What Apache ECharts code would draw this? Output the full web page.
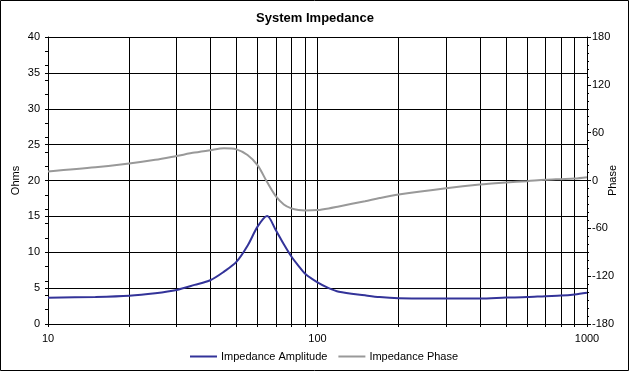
<!DOCTYPE html>
<html>
<head>
<meta charset="utf-8">
<script src="https://cdn.jsdelivr.net/npm/echarts@6/dist/echarts.min.js"></script>
<style>
html,body{margin:0;padding:0;background:#fff;}
#chart{width:630px;height:372px;}
</style>
</head>
<body>
<div id="chart"></div>
<script>
const title = 'System Impedance';
const seriesNames = ['Impedance Amplitude', 'Impedance Phase'];
const freq = [10, 15, 20, 25, 30, 35, 40, 45, 50, 55, 60, 65, 70, 75, 80, 85, 90, 100, 110, 120, 150, 170, 200, 300, 400, 500, 600, 700, 800, 900, 1000];
const amplitude = [3.67, 3.78, 3.95, 4.3, 4.75, 5.45, 6.1, 7.3, 8.65, 10.9, 13.6, 15.05, 13.1, 11.1, 9.4, 8.1, 7.0, 5.8, 5.0, 4.5, 4.0, 3.75, 3.6, 3.56, 3.56, 3.68, 3.75, 3.88, 3.96, 4.12, 4.36];
const phase = [11.3, 16.5, 21.3, 26, 30.8, 35, 38, 40.3, 39, 32, 19, -2, -19.7, -30, -35, -37, -37.5, -37, -35, -32.5, -26, -22, -17.6, -9.6, -5, -2.5, -0.8, 0.8, 1.7, 2.5, 4.2];
const gridFreqs = [10, 20, 30, 40, 50, 60, 70, 80, 90, 100, 200, 300, 400, 500, 600, 700, 800, 900, 1000];
const xLabels = [10, 100, 1000];

const font = 'Liberation Sans, Arial, sans-serif';
const chart = echarts.init(document.getElementById('chart'), null, {renderer: 'canvas'});
chart.setOption({
  backgroundColor: '#fff',
  animation: false,
  title: {
    text: title, left: 'center', top: 7,
    textStyle: {fontFamily: font, fontSize: 13, fontWeight: 'bold', color: '#000'}
  },
  legend: {
    left: 190, top: 351, padding: 0, itemWidth: 27, itemHeight: 2, itemGap: 11, icon: 'rect',
    textStyle: {fontFamily: font, fontSize: 11, color: '#000', padding: [0, 0, 0, -1]},
    data: seriesNames
  },
  graphic: [{
    type: 'rect', shape: {x: 0.5, y: 0.5, width: 628, height: 370},
    style: {fill: 'none', stroke: '#000', lineWidth: 1}, silent: true, z: 100
  }],
  grid: {left: 48, right: 43, top: 37, bottom: 48, containLabel: false, outerBoundsMode: 'none'},
  xAxis: {
    type: 'log', logBase: 10, min: 10, max: 1000,
    axisLine: {show: true, lineStyle: {color: '#000', width: 1}},
    axisTick: {show: true, length: 3, customValues: gridFreqs, lineStyle: {color: '#000'}},
    axisLabel: {customValues: xLabels, formatter: v => String(Math.round(v)), fontFamily: font, fontSize: 11, color: '#000', margin: 9},
    splitLine: {show: true, lineStyle: {color: '#000', width: 1}},
    minorTick: {show: false}
  },
  yAxis: [{
    type: 'value', position: 'left', min: 0, max: 40, interval: 5,
    name: 'Ohms', nameLocation: 'middle', nameRotate: 90, nameGap: 27, nameMoveOverlap: false,
    nameTextStyle: {fontFamily: font, fontSize: 11, color: '#000'},
    axisLine: {show: true, lineStyle: {color: '#000'}},
    axisTick: {show: true, length: 3, lineStyle: {color: '#000'}},
    axisLabel: {fontFamily: font, fontSize: 11, color: '#000', margin: 8},
    splitLine: {show: true, lineStyle: {color: '#000', width: 1}}
  }, {
    type: 'value', position: 'right', min: -180, max: 180, interval: 60,
    name: 'Phase', nameLocation: 'middle', nameRotate: 90, nameGap: 20, nameMoveOverlap: false,
    nameTextStyle: {fontFamily: font, fontSize: 11, color: '#000'},
    axisLine: {show: true, lineStyle: {color: '#000'}},
    axisTick: {show: true, length: 4, lineStyle: {color: '#000'}},
    minorTick: {show: true, splitNumber: 6, length: 2, lineStyle: {color: '#000'}},
    axisLabel: {fontFamily: font, fontSize: 11, color: '#000', margin: 5},
    splitLine: {show: false}
  }, {
    type: 'value', position: 'left', min: 0, max: 40, interval: 2,
    axisLine: {show: false},
    axisTick: {show: true, length: 3, lineStyle: {color: '#000'}},
    axisLabel: {show: false},
    splitLine: {show: false}
  }],
  series: [{
    name: seriesNames[0], type: 'line', yAxisIndex: 0,
    data: freq.map((f, i) => [f, amplitude[i]]),
    showSymbol: false, symbol: 'none', smooth: 0.3,
    lineStyle: {color: '#333399', width: 2}, itemStyle: {color: '#333399'}, z: 5
  }, {
    name: seriesNames[1], type: 'line', yAxisIndex: 1,
    data: freq.map((f, i) => [f, phase[i]]),
    showSymbol: false, symbol: 'none', smooth: 0.3,
    lineStyle: {color: '#999999', width: 2}, itemStyle: {color: '#999999'}, z: 4
  }]
});
</script>
</body>
</html>
